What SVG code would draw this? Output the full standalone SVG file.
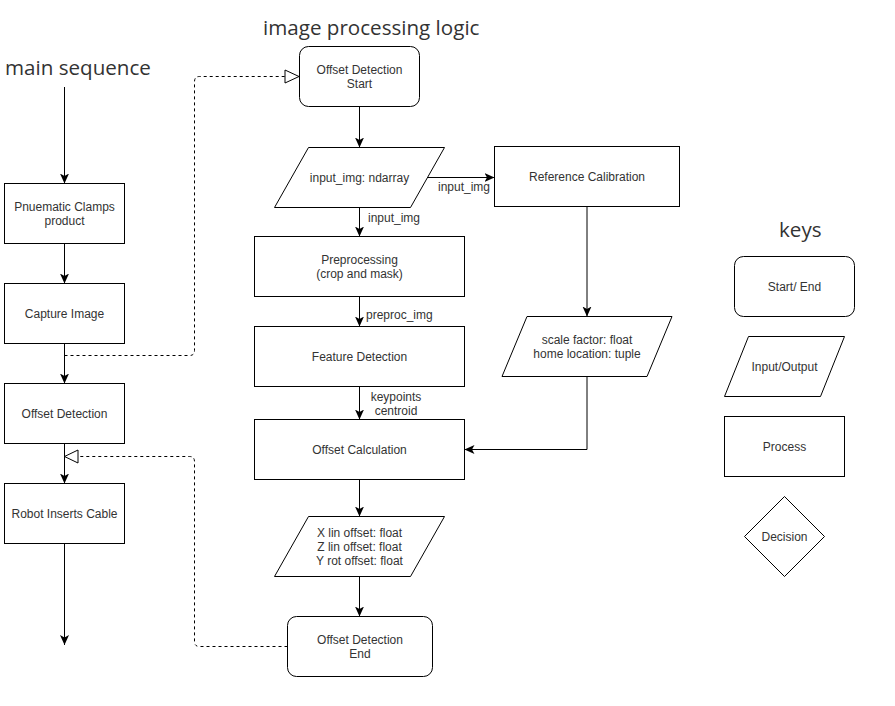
<svg xmlns="http://www.w3.org/2000/svg" width="895" height="706" viewBox="0 0 895 706">
<defs>
<marker id="arr" markerUnits="userSpaceOnUse" markerWidth="10" markerHeight="10" viewBox="0 0 10 10" refX="10" refY="5" orient="auto">
<path d="M0,0.5 L10,5 L0,9.5 L2.5,5 Z" fill="#000"/>
</marker>
</defs>
<style>
.box{fill:#fff;stroke:#000;stroke-width:1}
.t{font-family:"Liberation Sans",Arial,sans-serif;font-size:12px;fill:#333;text-anchor:middle}
.lbl{font-family:"Liberation Sans",Arial,sans-serif;font-size:12px;fill:#333}
.title{font-family:"Open Sans","Noto Sans",sans-serif;font-size:20.6px;fill:#333}
.e{fill:none;stroke:#000;stroke-width:1}
.ea{fill:none;stroke:#000;stroke-width:1;marker-end:url(#arr)}
.d{fill:none;stroke:#000;stroke-width:1;stroke-dasharray:3,3}
.hollow{fill:#fff;stroke:#000;stroke-width:1}
</style>
<rect width="895" height="706" fill="#fff"/>
<text class="title" x="5" y="75">main sequence</text>
<text class="title" x="263" y="35">image processing logic</text>
<text class="title" x="779" y="237">keys</text>

<g id="connectors">
<line class="ea" x1="64.5" y1="87" x2="64.5" y2="183.5"/>
<line class="ea" x1="64.5" y1="243.5" x2="64.5" y2="283.5"/>
<line class="ea" x1="64.5" y1="343.5" x2="64.5" y2="383.5"/>
<line class="ea" x1="64.5" y1="443.5" x2="64.5" y2="483.5"/>
<line class="ea" x1="64.5" y1="543.5" x2="64.5" y2="645"/>
<path class="d" d="M64.5,355.5 H189.5 Q194.5,355.5 194.5,350.5 V81.5 Q194.5,76.5 199.5,76.5 H285"/>
<path class="hollow" d="M285,70 L299,76.5 L285,83 Z"/>
<path class="d" d="M287.5,646.5 H199.5 Q194.5,646.5 194.5,641.5 V461.5 Q194.5,456.5 189.5,456.5 H78"/>
<path class="hollow" d="M78,450 L64.5,456.5 L78,463 Z"/>
<line class="ea" x1="359.5" y1="106.5" x2="359.5" y2="147.5"/>
<line class="ea" x1="427" y1="177.5" x2="494.5" y2="177.5"/>
<text class="lbl" x="438" y="191">input_img</text>
<line class="ea" x1="359.5" y1="207.5" x2="359.5" y2="236.5"/>
<text class="lbl" x="368" y="222">input_img</text>
<line class="ea" x1="359.5" y1="296.5" x2="359.5" y2="326.5"/>
<text class="lbl" x="366" y="319">preproc_img</text>
<line class="ea" x1="359.5" y1="386.5" x2="359.5" y2="419.5"/>
<text class="t" x="396" y="401">keypoints</text>
<text class="t" x="396" y="415">centroid</text>
<line class="ea" x1="359.5" y1="479.5" x2="359.5" y2="516.5"/>
<line class="ea" x1="359.5" y1="576.5" x2="359.5" y2="616.5"/>
<line class="ea" x1="587" y1="206.5" x2="587" y2="316.5"/>
<path class="ea" d="M587,376.5 V449.5 H464.5"/>
</g>

<g id="n-clamps"><rect class="box" x="4.5" y="183.5" width="120" height="60"/><text class="t" x="64.5" y="211">Pnuematic Clamps</text><text class="t" x="64.5" y="225">product</text></g>
<g id="n-capture"><rect class="box" x="4.5" y="283.5" width="120" height="60"/><text class="t" x="64.5" y="318">Capture Image</text></g>
<g id="n-offsetdet"><rect class="box" x="4.5" y="383.5" width="120" height="60"/><text class="t" x="64.5" y="418">Offset Detection</text></g>
<g id="n-robot"><rect class="box" x="4.5" y="483.5" width="120" height="60"/><text class="t" x="64.5" y="518">Robot Inserts Cable</text></g>

<g id="n-start"><rect class="box" x="299.5" y="46.5" width="120" height="60" rx="9"/><text class="t" x="359.5" y="74">Offset Detection</text><text class="t" x="359.5" y="88">Start</text></g>
<g id="n-input"><polygon class="box" points="308.5,147.5 444.5,147.5 410.5,207.5 274.5,207.5"/><text class="t" x="359.5" y="182">input_img: ndarray</text></g>
<g id="n-preproc"><rect class="box" x="254.5" y="236.5" width="210" height="60"/><text class="t" x="359.5" y="264">Preprocessing</text><text class="t" x="359.5" y="278">(crop and mask)</text></g>
<g id="n-feature"><rect class="box" x="254.5" y="326.5" width="210" height="60"/><text class="t" x="359.5" y="361">Feature Detection</text></g>
<g id="n-calc"><rect class="box" x="254.5" y="419.5" width="210" height="60"/><text class="t" x="359.5" y="454">Offset Calculation</text></g>
<g id="n-output"><polygon class="box" points="308.5,516.5 444.5,516.5 410.5,576.5 274.5,576.5"/><text class="t" x="359.5" y="537">X lin offset: float</text><text class="t" x="359.5" y="551">Z lin offset: float</text><text class="t" x="359.5" y="565">Y rot offset: float</text></g>
<g id="n-end"><rect class="box" x="287.5" y="616.5" width="145" height="60" rx="9"/><text class="t" x="360" y="644">Offset Detection</text><text class="t" x="360" y="658">End</text></g>
<g id="n-refcal"><rect class="box" x="494.5" y="146.5" width="185" height="60"/><text class="t" x="587" y="181">Reference Calibration</text></g>
<g id="n-scale"><polygon class="box" points="527,316.5 672,316.5 647,376.5 502,376.5"/><text class="t" x="587" y="344">scale factor: float</text><text class="t" x="587" y="358">home location: tuple</text></g>

<g id="k-startend"><rect class="box" x="734.5" y="256.5" width="120" height="60" rx="9"/><text class="t" x="794.5" y="291">Start/ End</text></g>
<g id="k-io"><polygon class="box" points="748.5,336.5 844.5,336.5 820.5,396.5 724.5,396.5"/><text class="t" x="784.5" y="371">Input/Output</text></g>
<g id="k-process"><rect class="box" x="724.5" y="416.5" width="120" height="60"/><text class="t" x="784.5" y="451">Process</text></g>
<g id="k-decision"><polygon class="box" points="784.5,496.5 824.5,536.5 784.5,576.5 744.5,536.5"/><text class="t" x="784.5" y="541">Decision</text></g>
</svg>
